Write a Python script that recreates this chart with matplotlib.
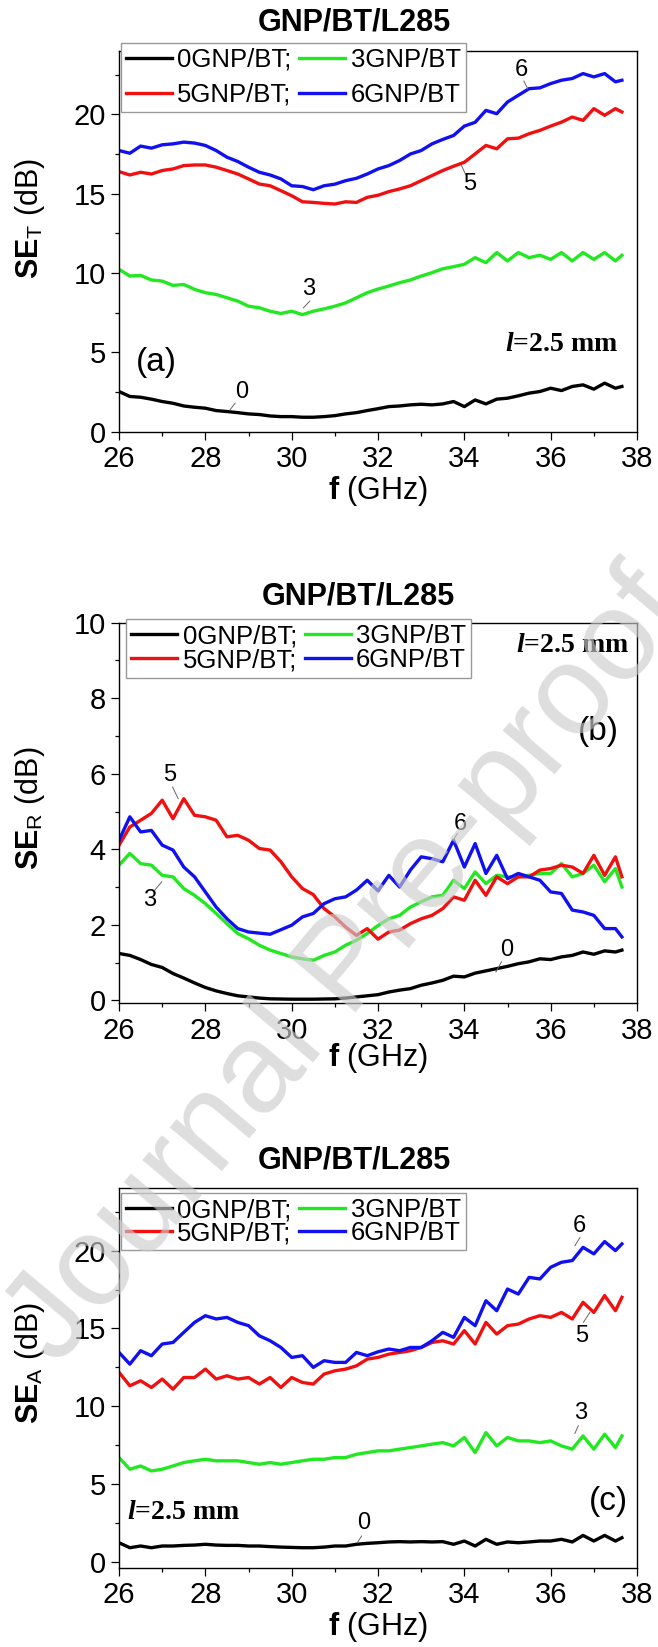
import matplotlib
matplotlib.use('Agg')
import matplotlib.pyplot as plt
from matplotlib.ticker import MultipleLocator

# fonts: Arial-like for everything, Times-like bold for the thickness note
plt.rcParams['font.family'] = ['Liberation Sans', 'DejaVu Sans']
plt.rcParams['mathtext.fontset'] = 'custom'
plt.rcParams['mathtext.rm'] = 'Liberation Sans'
plt.rcParams['mathtext.bf'] = 'Liberation Sans:bold'
plt.rcParams['mathtext.it'] = 'Liberation Serif:italic:bold'

# frequency axis (GHz)
freq = [26.0, 26.25, 26.5, 26.75, 27.0, 27.25, 27.5, 27.75, 28.0, 28.25, 28.5, 28.75,
        29.0, 29.25, 29.5, 29.75, 30.0, 30.25, 30.5, 30.75, 31.0, 31.25, 31.5, 31.75,
        32.0, 32.25, 32.5, 32.75, 33.0, 33.25, 33.5, 33.75, 34.0, 34.25, 34.5, 34.75,
        35.0, 35.25, 35.5, 35.75, 36.0, 36.25, 36.5, 36.75, 37.0, 37.25, 37.5, 37.65]

# (a) total shielding SE_T
seT_0 = [2.53, 2.22, 2.17, 2.05, 1.90, 1.79, 1.62, 1.54, 1.48, 1.33, 1.27, 1.20,
         1.12, 1.08, 0.99, 0.95, 0.95, 0.91, 0.91, 0.95, 1.01, 1.12, 1.20, 1.33,
         1.45, 1.58, 1.62, 1.69, 1.73, 1.69, 1.75, 1.90, 1.58, 2.00, 1.75, 2.05,
         2.11, 2.26, 2.43, 2.53, 2.74, 2.59, 2.85, 2.95, 2.68, 3.06, 2.74, 2.85]
seT_3 = [10.23, 9.81, 9.85, 9.56, 9.49, 9.22, 9.28, 8.97, 8.76, 8.65, 8.44, 8.23,
         7.91, 7.81, 7.59, 7.45, 7.59, 7.38, 7.59, 7.74, 7.91, 8.12, 8.44, 8.76,
         8.99, 9.18, 9.39, 9.56, 9.81, 10.02, 10.27, 10.40, 10.55, 10.97, 10.65, 11.29,
         10.76, 11.29, 10.97, 11.12, 10.86, 11.29, 10.76, 11.29, 10.86, 11.29, 10.76, 11.12]
seT_5 = [16.39, 16.18, 16.35, 16.24, 16.46, 16.56, 16.77, 16.81, 16.81, 16.67, 16.46, 16.24,
         15.93, 15.61, 15.50, 15.19, 14.87, 14.49, 14.45, 14.39, 14.35, 14.49, 14.45, 14.77,
         14.90, 15.13, 15.30, 15.50, 15.82, 16.14, 16.46, 16.73, 16.98, 17.51, 18.04, 17.83,
         18.46, 18.50, 18.78, 18.99, 19.26, 19.51, 19.83, 19.62, 20.36, 19.94, 20.36, 20.15]
seT_6 = [17.72, 17.55, 18.00, 17.87, 18.08, 18.14, 18.25, 18.19, 18.04, 17.72, 17.30, 17.03,
         16.67, 16.35, 16.18, 15.93, 15.50, 15.45, 15.25, 15.50, 15.60, 15.82, 15.97, 16.24,
         16.56, 16.77, 17.09, 17.50, 17.72, 18.14, 18.42, 18.67, 19.26, 19.50, 20.25, 20.04,
         20.78, 21.20, 21.62, 21.67, 21.94, 22.15, 22.26, 22.57, 22.36, 22.57, 22.05, 22.15]

# (b) reflection SE_R
seR_0 = [1.24, 1.19, 1.08, 0.95, 0.87, 0.71, 0.59, 0.46, 0.34, 0.25, 0.18, 0.12,
         0.09, 0.06, 0.04, 0.035, 0.03, 0.03, 0.03, 0.035, 0.04, 0.06, 0.09, 0.12,
         0.15, 0.22, 0.27, 0.31, 0.40, 0.46, 0.53, 0.64, 0.62, 0.72, 0.78, 0.84,
         0.90, 0.97, 1.02, 1.10, 1.08, 1.15, 1.19, 1.28, 1.22, 1.31, 1.28, 1.33]
seR_3 = [3.58, 3.89, 3.62, 3.58, 3.31, 3.27, 2.96, 2.78, 2.56, 2.30, 2.03, 1.77,
         1.63, 1.46, 1.33, 1.24, 1.15, 1.10, 1.06, 1.19, 1.28, 1.46, 1.59, 1.77,
         1.98, 2.16, 2.25, 2.47, 2.61, 2.74, 2.78, 3.18, 2.96, 3.40, 3.09, 3.31,
         3.27, 3.27, 3.31, 3.36, 3.36, 3.62, 3.27, 3.36, 3.58, 3.14, 3.49, 3.00]
seR_5 = [4.11, 4.59, 4.77, 4.95, 5.30, 4.81, 5.34, 4.90, 4.86, 4.77, 4.33, 4.37,
         4.24, 4.02, 3.98, 3.67, 3.27, 2.96, 2.80, 2.43, 2.21, 1.94, 1.72, 1.90,
         1.62, 1.81, 1.86, 2.03, 2.16, 2.25, 2.43, 2.74, 2.65, 3.18, 2.78, 3.27,
         3.09, 3.27, 3.27, 3.45, 3.49, 3.58, 3.53, 3.36, 3.84, 3.31, 3.80, 3.27]
seR_6 = [4.24, 4.86, 4.46, 4.50, 4.11, 3.98, 3.53, 3.27, 2.87, 2.47, 2.16, 1.90,
         1.81, 1.78, 1.75, 1.87, 1.99, 2.21, 2.30, 2.56, 2.69, 2.74, 2.92, 3.18,
         2.90, 3.31, 3.00, 3.45, 3.80, 3.75, 3.67, 4.24, 3.53, 4.15, 3.36, 3.84,
         3.22, 3.36, 3.27, 3.18, 2.87, 2.83, 2.39, 2.34, 2.25, 1.90, 1.90, 1.68]

# (c) absorption SE_A
seA_0 = [1.24, 0.92, 1.03, 0.92, 1.03, 1.03, 1.07, 1.09, 1.14, 1.09, 1.07, 1.07,
         1.03, 1.03, 0.99, 0.96, 0.94, 0.92, 0.92, 0.96, 1.03, 1.03, 1.14, 1.20,
         1.24, 1.29, 1.31, 1.29, 1.31, 1.29, 1.31, 1.14, 1.35, 1.03, 1.46, 1.14,
         1.29, 1.24, 1.29, 1.35, 1.35, 1.46, 1.29, 1.71, 1.35, 1.71, 1.35, 1.56]
seA_3 = [6.71, 5.96, 6.17, 5.85, 5.96, 6.17, 6.39, 6.50, 6.60, 6.50, 6.50, 6.50,
         6.39, 6.28, 6.39, 6.28, 6.39, 6.50, 6.60, 6.60, 6.71, 6.71, 6.92, 7.03,
         7.14, 7.14, 7.25, 7.35, 7.46, 7.57, 7.67, 7.46, 8.00, 7.03, 8.31, 7.46,
         8.00, 7.78, 7.78, 7.67, 7.78, 7.46, 7.25, 8.10, 7.25, 8.21, 7.35, 8.10]
seA_5 = [12.18, 11.32, 11.64, 11.21, 11.75, 11.10, 11.85, 11.85, 12.39, 11.75, 11.96, 11.75,
         11.85, 11.43, 11.85, 11.21, 11.85, 11.53, 11.43, 12.07, 12.28, 12.39, 12.60, 13.03,
         13.14, 13.35, 13.46, 13.57, 13.78, 14.10, 14.21, 14.00, 14.86, 14.00, 15.39, 14.64,
         15.18, 15.28, 15.61, 15.82, 15.71, 16.03, 15.61, 16.68, 16.03, 17.11, 16.14, 17.00]
seA_6 = [13.46, 12.71, 13.57, 13.25, 14.00, 14.10, 14.75, 15.39, 15.82, 15.61, 15.71, 15.39,
         15.18, 14.53, 14.21, 13.78, 13.14, 13.25, 12.50, 12.93, 12.82, 12.82, 13.46, 13.25,
         13.50, 13.68, 13.57, 13.78, 13.78, 14.21, 14.75, 14.43, 15.71, 15.18, 16.78, 16.14,
         17.53, 17.21, 18.28, 18.18, 18.93, 19.25, 19.36, 20.21, 19.79, 20.58, 20.00, 20.43]

labels = ['0GNP/BT;', '3GNP/BT', '5GNP/BT;', '6GNP/BT']
colors = ['#000000', '#22e822', '#f01010', '#1010f0']

# curve numbers: (text, text x, text y, leader x0, y0, x1, y1)
notes_a = [('6', 35.33, 22.8, 35.38, 22.1, 35.47, 21.6),
           ('5', 34.13, 15.6, 33.93, 16.8, 34.03, 16.2),
           ('3', 30.39, 8.97, 30.27, 7.8, 30.42, 8.23),
           ('0', 28.84, 2.53, 28.57, 1.37, 28.69, 1.8)]
notes_b = [('5', 27.18, 5.96, 27.24, 5.65, 27.37, 5.34),
           ('3', 26.72, 2.65, 26.83, 2.92, 26.99, 3.14),
           ('6', 33.90, 4.68, 33.84, 4.42, 33.74, 4.24),
           ('0', 34.98, 1.33, 34.86, 1.02, 34.73, 0.75)]
notes_c = [('6', 36.67, 21.6, 36.68, 20.85, 36.56, 20.31),
           ('5', 36.72, 14.53, 36.91, 16.04, 36.76, 15.4),
           ('3', 36.69, 9.6, 36.64, 8.75, 36.56, 8.26),
           ('0', 31.66, 2.53, 31.62, 1.67, 31.52, 1.24)]


def draw_panel(ax, curves, ylim, ymajor, yminor, ylabel, notes, tag, tag_xy,
               note_xy, note_ha, leg_anchor, leg_spacing, ylabel_y, title_xy, xlabel_y):
    lines = []
    for y, c, lab in zip(curves, colors, labels):
        ln, = ax.plot(freq, y, color=c, lw=2.4, label=lab, solid_joinstyle='round')
        lines.append(ln)

    ax.set_xlim(26, 38)
    ax.set_ylim(*ylim)
    ax.xaxis.set_major_locator(MultipleLocator(2))
    ax.xaxis.set_minor_locator(MultipleLocator(1))
    ax.yaxis.set_major_locator(MultipleLocator(ymajor))
    ax.yaxis.set_minor_locator(MultipleLocator(yminor))
    ax.tick_params(which='both', direction='out', width=0.9, labelsize=21)
    ax.tick_params(which='major', length=5.5)
    ax.tick_params(which='minor', length=3)
    ax.tick_params(axis='x', pad=4)
    ax.tick_params(axis='y', pad=4)
    for sp in ax.spines.values():
        sp.set_linewidth(1.0)

    ax.set_ylabel(ylabel, fontsize=22)
    ax.yaxis.set_label_coords(-0.14, ylabel_y)
    ax.set_xlabel(r'$\mathbf{f}$ (GHz)', fontsize=22)
    ax.xaxis.set_label_coords(0.5, xlabel_y)

    ax.text(title_xy[0], title_xy[1], 'GNP/BT/L285', transform=ax.transAxes,
            ha='center', va='center', fontsize=22, fontweight='bold')

    # legend: two columns, rows 0/3 and 5/6
    order = [0, 2, 1, 3]
    leg = ax.legend([lines[i] for i in order], [labels[i] for i in order], ncol=2,
                    loc='upper left', bbox_to_anchor=leg_anchor, borderaxespad=0,
                    fontsize=18.5, handlelength=1.8, handletextpad=0.2,
                    columnspacing=0.3, borderpad=0.2, labelspacing=leg_spacing,
                    fancybox=False, edgecolor='#999999', framealpha=1)
    leg.get_frame().set_linewidth(1.0)
    leg.set_zorder(5)

    for t, tx, ty, x0, y0, x1, y1 in notes:
        ax.text(tx, ty, t, fontsize=17, ha='center', va='center')
        ax.plot([x0, x1], [y0, y1], color='#666666', lw=0.7)

    ax.text(tag_xy[0], tag_xy[1], tag, fontsize=24, ha='center', va='center')
    ax.text(note_xy[0], note_xy[1], r'$\mathit{l}$=2.5 mm', fontsize=20,
            family='Liberation Serif', fontweight='bold', ha=note_ha, va='center')


fig = plt.figure(figsize=(6.58, 16.47), dpi=100)
ax_a = fig.add_axes([0.1809, 0.7379, 0.7872, 0.2312])
ax_b = fig.add_axes([0.1809, 0.3908, 0.7872, 0.2311])
ax_c = fig.add_axes([0.1809, 0.0478, 0.7872, 0.2307])

draw_panel(ax_a, [seT_0, seT_3, seT_5, seT_6], (0, 24), 5, 2.5,
           r'$\mathbf{SE}_\mathrm{T}$ (dB)', notes_a, '(a)', (26.87, 4.33),
           (37.56, 5.49), 'right', (0.003, 1.022), 0.43, 0.56, (0.454, 1.0735), -0.112)
draw_panel(ax_b, [seR_0, seR_3, seR_5, seR_6], (-0.08, 10), 2, 1,
           r'$\mathbf{SE}_\mathrm{R}$ (dB)', notes_b, '(b)', (37.1, 7.11),
           (37.81, 9.41), 'right', (0.0135, 1.009), 0.0, 0.513, (0.463, 1.069), -0.10)
draw_panel(ax_c, [seA_0, seA_3, seA_5, seA_6], (-0.4, 24), 5, 2.5,
           r'$\mathbf{SE}_\mathrm{A}$ (dB)', notes_c, '(c)', (37.34, 3.92),
           (26.18, 3.18), 'left', (0.003, 0.987), -0.05, 0.54, (0.455, 1.072), -0.11)

# faint watermark across the middle (runs off the right edge, as in the original)
fig.text(0.53, 0.412, 'Journal Pre-proof', rotation=50, fontsize=92,
         color='#cccccc', alpha=0.65, ha='center', va='center',
         rotation_mode='anchor', zorder=10)

fig.savefig('out.png', dpi=100)
